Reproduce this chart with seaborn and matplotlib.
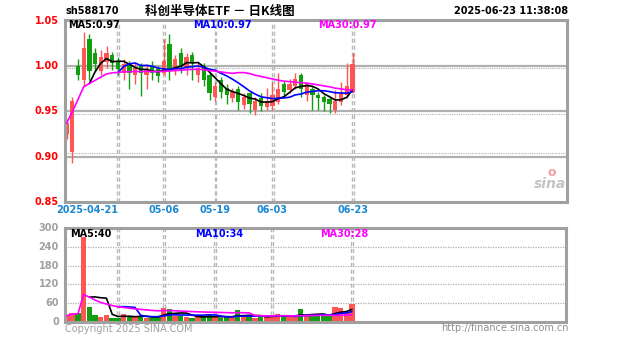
import numpy as np
import pandas as pd
import matplotlib
matplotlib.use("Agg")
import matplotlib.pyplot as plt
import seaborn as sns

# ---------------- data ----------------
dates = ["04-08", "04-09", "04-10", "04-11", "04-14", "04-15", "04-16", "04-17", "04-18",
         "04-21", "04-22", "04-23", "04-24", "04-25", "04-28", "04-29", "04-30",
         "05-06", "05-07", "05-08", "05-09", "05-12", "05-13", "05-14", "05-15", "05-16",
         "05-19", "05-20", "05-21", "05-22", "05-23", "05-26", "05-27", "05-28", "05-29", "05-30",
         "06-03", "06-04", "06-05", "06-06", "06-09", "06-10", "06-11", "06-12", "06-13",
         "06-16", "06-17", "06-18", "06-19", "06-20", "06-23"]

open_ = [0.925, 0.905, 1.000, 0.985, 1.030, 1.015, 0.995, 1.005, 1.012, 1.005,
         0.993, 1.003, 0.990, 1.000, 0.990, 1.000, 0.997, 0.992, 1.025, 0.995,
         1.015, 0.998, 1.012, 0.990, 1.000, 0.990, 0.966, 0.985, 0.976, 0.965,
         0.975, 0.957, 0.970, 0.952, 0.965, 0.955, 0.956, 0.960, 0.980, 0.974,
         0.978, 0.990, 0.968, 0.975, 0.968, 0.966, 0.964, 0.952, 0.960, 0.968, 0.972]
high = [0.942, 0.966, 1.008, 1.038, 1.035, 1.020, 1.018, 1.022, 1.016, 1.010,
        1.008, 1.006, 1.004, 1.003, 1.002, 1.006, 1.000, 1.030, 1.035, 1.012,
        1.020, 1.015, 1.016, 1.003, 1.003, 0.993, 0.982, 0.988, 0.980, 0.976,
        0.978, 0.970, 0.972, 0.966, 0.970, 0.976, 0.982, 0.993, 0.984, 0.986,
        0.992, 0.993, 0.983, 0.978, 0.972, 0.968, 0.966, 0.974, 0.982, 1.004, 1.015]
low = [0.920, 0.893, 0.985, 0.978, 0.985, 0.995, 0.990, 0.998, 0.996, 0.990,
       0.985, 0.975, 0.980, 0.967, 0.975, 0.985, 0.982, 0.990, 0.985, 0.990,
       0.993, 0.990, 0.985, 0.983, 0.978, 0.963, 0.962, 0.965, 0.958, 0.960,
       0.952, 0.953, 0.948, 0.946, 0.950, 0.952, 0.952, 0.958, 0.966, 0.970,
       0.975, 0.966, 0.962, 0.952, 0.952, 0.950, 0.948, 0.948, 0.957, 0.965, 0.970]
close = [0.937, 0.962, 0.990, 1.020, 0.995, 1.002, 1.010, 1.015, 1.003, 0.997,
         1.002, 0.993, 0.998, 0.992, 0.997, 0.993, 0.989, 1.006, 0.996, 1.008,
         1.000, 1.010, 1.004, 0.998, 0.985, 0.970, 0.978, 0.972, 0.968, 0.972,
         0.960, 0.966, 0.958, 0.962, 0.956, 0.960, 0.968, 0.975, 0.972, 0.980,
         0.986, 0.975, 0.980, 0.968, 0.965, 0.960, 0.958, 0.962, 0.970, 0.978, 1.002]
volume = [20, 30, 29, 271, 48, 22, 17, 22, 14, 13,
          25, 18, 15, 20, 14, 12, 18, 45, 43, 20,
          18, 16, 14, 18, 15, 22, 15, 14, 18, 15,
          38, 16, 20, 14, 15, 18, 22, 25, 16, 15,
          18, 40, 22, 24, 20, 22, 20, 48, 46, 30, 57]

date_ticks = ["04-21", "05-06", "05-19", "06-03", "06-23"]
date_tick_labels = ["2025-04-21", "05-06", "05-19", "06-03", "06-23"]
price_ticks = [0.85, 0.90, 0.95, 1.00, 1.05]
price_tick_labels = ["0.85", "0.90", "0.95", "1.00", "1.05"]
vol_ticks = [0, 60, 120, 180, 240, 300]
vol_tick_labels = ["0", "60", "120", "180", "240", "300"]
price_ma_labels = ["MA5:0.97", "MA10:0.97", "MA30:0.97"]
vol_ma_labels = ["MA5:40", "MA10:34", "MA30:28"]
code_label = "sh588170"
title_text = "科创半导体ETF － 日K线图"
timestamp = "2025-06-23 11:38:08"

# ---------------- frame ----------------
df = pd.DataFrame({"i": np.arange(len(dates)), "date": dates, "open": open_,
                   "high": high, "low": low, "close": close, "vol": volume})
for col, src in (("c", "close"), ("v", "vol")):
    df[col + "ma5"] = df[src].rolling(5, min_periods=5).mean()
    df[col + "ma10"] = df[src].rolling(10, min_periods=10).mean()
    df[col + "ma30"] = df[src].rolling(30, min_periods=1).mean()

sns.set_theme(style="white")
plt.rcParams["font.family"] = ["DejaVu Sans", "Noto Sans CJK SC"]

W, H = 627, 342
fig = plt.figure(figsize=(W / 100, H / 100), dpi=100)
fig.patch.set_facecolor("white")

def fx(px):
    return px / W

def fy(py):
    return 1 - py / H

x0, dx = 66.5, 5.72
left_px, right_px = 65, 567
xlim = ((left_px - x0) / dx, (right_px - x0) / dx)

ax = fig.add_axes([fx(65), fy(202), fx(567 - 65), (202 - 20) / H])
axv = fig.add_axes([fx(65), fy(322), fx(566 - 65), (322 - 228) / H])

RED = "#ff5555"
GREEN = "#119f11"
GRID = "#b0b0b0"
FRAME = "#a0a0a0"

for a in (ax, axv):
    a.set_facecolor("white")
    for s in a.spines.values():
        s.set_color(FRAME)
        s.set_linewidth(2.2)

# horizontal grid
for lv in (0.90, 0.95, 1.00):
    ax.axhline(lv, color=GRID, lw=1.6, zorder=0.5)
for lv in (0.904, 0.947, 0.9975):
    ax.axhline(lv, color=GRID, lw=0.8, ls=(0, (1, 1)), zorder=0.5)
for lv in (60, 120, 180, 240):
    axv.axhline(lv, color=GRID, lw=0.9, ls=(0, (1, 1)), zorder=0.5)

# vertical dashed date lines
date_idx = [dates.index(d) for d in date_ticks]
for a in (ax, axv):
    for i in date_idx:
        a.axvline(i - 0.12, color="#b8b8b8", lw=1.0, ls=(0, (3, 2)), zorder=0.6)
        a.axvline(i + 0.22, color="#b8b8b8", lw=1.0, ls=(0, (3, 2)), zorder=0.6)

# candles
up = df["close"] >= df["open"]
colors = np.where(up, RED, GREEN)
ax.vlines(df["i"], df["low"], df["high"], colors=colors, lw=1.0, zorder=2)
ax.bar(df["i"], (df["close"] - df["open"]).abs().clip(lower=0.0015),
       bottom=np.minimum(df["open"], df["close"]), width=0.75,
       color=colors, linewidth=0, zorder=2)

# volume bars
axv.bar(df["i"], df["vol"], width=0.95, color=colors, linewidth=0, zorder=2)

# moving averages (seaborn)
ma_colors = ["black", "#0000ff", "#ff00ff"]
for key, colr in zip(["ma5", "ma10", "ma30"], ma_colors):
    sns.lineplot(data=df, x="i", y="c" + key, ax=ax, color=colr, lw=1.2, zorder=3)
    sns.lineplot(data=df, x="i", y="v" + key, ax=axv, color=colr, lw=1.2, zorder=3)
for a in (ax, axv):
    a.set_xlabel("")
    a.set_ylabel("")
    a.set_xlim(*xlim)
    a.set_xticks([])
    a.set_yticks([])
ax.set_ylim(0.85, 1.051)
axv.set_ylim(0, 300)

# MA labels
ma_x_px = [68, 193, 318]
for lab, colr, xp in zip(price_ma_labels, ma_colors, ma_x_px):
    fig.text(fx(xp), fy(25), lab, color=colr, fontsize=7, fontweight="bold", va="center", ha="left")
for lab, colr, xp in zip(vol_ma_labels, ma_colors, ma_x_px):
    fig.text(fx(xp + 2), fy(234), lab, color=colr, fontsize=7, fontweight="bold", va="center", ha="left")

# axis labels
for v, lab in zip(price_ticks, price_tick_labels):
    ax.text(-0.012, (v - 0.85) / (1.051 - 0.85), lab, transform=ax.transAxes,
            color="#ff0000", fontsize=7, fontweight="bold", ha="right", va="center")
for v, lab in zip(vol_ticks, vol_tick_labels):
    axv.text(-0.012, v / 300, lab, transform=axv.transAxes,
             color="#a0a0a0", fontsize=7, fontweight="bold", ha="right", va="center")
for i, lab in zip(date_idx, date_tick_labels):
    fig.text(fx(x0 + i * dx), fy(210), lab, color="#1a88d0", fontsize=7,
             fontweight="bold", ha="right" if lab.startswith("2025") else "center", va="center")

# header texts
fig.text(fx(66), fy(11), code_label, color="black", fontsize=7, fontweight="bold", va="center")
fig.text(fx(220), fy(11), title_text, color="black", fontsize=9, fontweight="bold",
         va="center", ha="center", family=["Noto Sans CJK SC", "DejaVu Sans"])
fig.text(fx(568), fy(11), timestamp, color="black", fontsize=7, fontweight="bold",
         va="center", ha="right")

# footer texts
fig.text(fx(65), fy(329), "Copyright 2025 SINA.COM", color="#a0a0a0", fontsize=7, va="center")
fig.text(fx(569), fy(328), "http://finance.sina.com.cn", color="#909090", fontsize=7,
         va="center", ha="right")

# sina watermark
fig.text(fx(566), fy(184), "sina", color="#c4c4c4", fontsize=10, fontstyle="italic",
         fontweight="bold", ha="right", va="center")
fig.text(fx(552), fy(172), "o", color="#f0a0a0", fontsize=9, fontweight="bold",
         ha="center", va="center")

fig.savefig("out.png", dpi=100, facecolor="white")
